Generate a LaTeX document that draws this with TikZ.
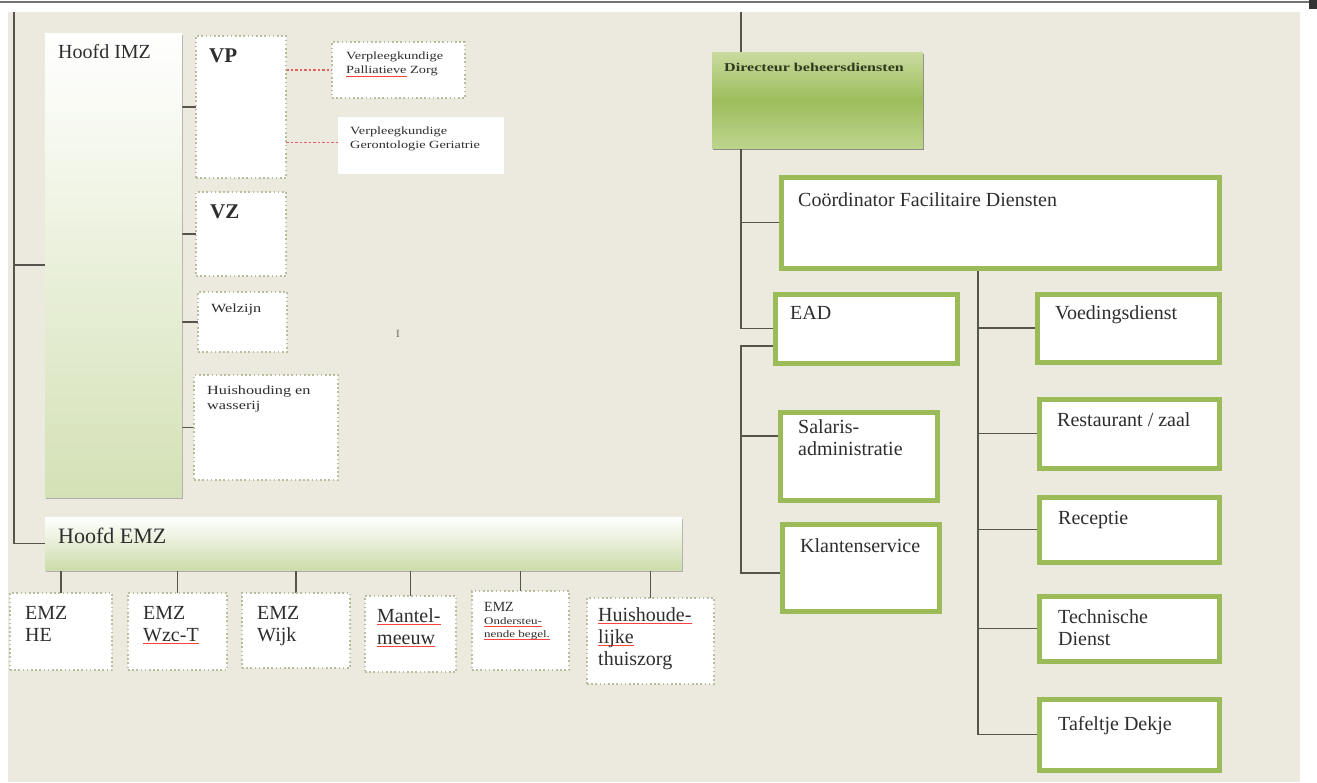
\documentclass[tikz,border=0pt]{standalone}
\usepackage{fontspec}
\setmainfont{Liberation Serif}
\usepackage{graphicx}
\usetikzlibrary{calc,shadows,backgrounds}
\definecolor{bgc}{HTML}{ECEADF}
\definecolor{linec}{HTML}{55554D}
\definecolor{dotc}{HTML}{B9BEA0}
\definecolor{gbord}{HTML}{9BBB59}
\definecolor{textc}{HTML}{2E2E2E}
\definecolor{dirtext}{HTML}{2F3A1F}
\definecolor{imzbot}{HTML}{D4E1B6}
\definecolor{emzbot}{HTML}{CCDCAA}
\definecolor{dirtop}{HTML}{C9DB9F}
\definecolor{dirmid}{HTML}{9DBD5C}
\definecolor{dirbot}{HTML}{BDD48C}
\definecolor{redc}{HTML}{E06060}
\newcommand\redsq[1]{\setbox0\hbox{#1}\rlap{\color{red!75}\rule[-2.4pt]{\wd0}{0.7pt}}\box0}
\newcommand\sm[1]{\scalebox{1.3}[1]{#1}}
\tikzset{
  box/.style={rectangle, anchor=north west, inner sep=0pt, outer sep=0pt},
  dotbox/.style={box, fill=white, draw=dotc, line width=1.3pt, dash pattern=on 1.6pt off 2.6pt},
  plainbox/.style={box, fill=white},
  gbox/.style={box, fill=white, draw=gbord, line width=5pt},
  imzbox/.style={box, top color=white, bottom color=imzbot, draw=none,
     drop shadow={shadow xshift=1.2pt, shadow yshift=-1.6pt, opacity=0.45, fill=black!60}},
  emzbox/.style={box, top color=white, bottom color=emzbot, draw=none,
     drop shadow={shadow xshift=1pt, shadow yshift=-1.6pt, opacity=0.45, fill=black!60}},
  dirbox/.style={box, top color=dirtop, bottom color=dirbot, middle color=dirmid, draw=none,
     drop shadow={shadow xshift=0.8pt, shadow yshift=-1.8pt, opacity=0.6, fill=black!70}},
  conn/.style={draw=linec, line width=1.6pt},
  redconn/.style={draw=redc, line width=1.3pt, dash pattern=on 2.5pt off 2pt},
  txt/.style={anchor=north west, inner sep=0pt, align=left, text=textc,
     font=\fontsize{20}{22}\selectfont},
  smtxt/.style={anchor=north west, inner sep=0pt, align=left, text=textc,
     font=\fontsize{11}{14}\selectfont},
  smtxtb/.style={anchor=north west, inner sep=0pt, align=left, text=textc,
     font=\fontsize{12.5}{15}\selectfont},
  boldtxt/.style={txt, font=\bfseries\fontsize{21}{24}\selectfont},
}
\begin{document}
\begin{tikzpicture}[x=1pt,y=-1pt]
\useasboundingbox (0,0) rectangle (1317,782);

% boxes (left)
\node[imzbox, minimum width=137pt, minimum height=464pt] (imz) at (45,33) {};
\node[dotbox, minimum width=90pt, minimum height=142pt] (vp) at (196,36) {};
\node[dotbox, minimum width=90pt, minimum height=84pt] (vz) at (196,192) {};
\node[dotbox, minimum width=89pt, minimum height=60pt] (welz) at (198,292) {};
\node[dotbox, minimum width=144pt, minimum height=105pt] (huis) at (194,375) {};
\node[dotbox, minimum width=133pt, minimum height=56pt] (pal) at (332,42) {};
\node[plainbox, minimum width=166pt, minimum height=57pt] (ger) at (338,117) {};
\node[emzbox, minimum width=637pt, minimum height=53pt] (emz) at (45,517) {};
\node[dotbox, minimum width=102pt, minimum height=77pt] (he) at (10,593) {};
\node[dotbox, minimum width=99pt, minimum height=77pt] (wzc) at (128,593) {};
\node[dotbox, minimum width=108pt, minimum height=75pt] (wijk) at (242,593) {};
\node[dotbox, minimum width=91pt, minimum height=76pt] (mantel) at (365,596) {};
\node[dotbox, minimum width=97pt, minimum height=79pt] (ond) at (472,591) {};
\node[dotbox, minimum width=127pt, minimum height=86pt] (hhl) at (587,598) {};

% boxes (right)
\node[dirbox, minimum width=211pt, minimum height=96pt] (dir) at (712,52) {};
\node[gbox, minimum width=438pt, minimum height=91pt] (coord) at (781,177) {};
\node[gbox, minimum width=182pt, minimum height=69pt] (ead) at (775,294) {};
\node[gbox, minimum width=157pt, minimum height=88pt] (sal) at (780,412) {};
\node[gbox, minimum width=157pt, minimum height=87pt] (klant) at (782,524) {};
\node[gbox, minimum width=182pt, minimum height=68pt] (voed) at (1037,294) {};
\node[gbox, minimum width=180pt, minimum height=69pt] (rest) at (1039,399) {};
\node[gbox, minimum width=180pt, minimum height=65pt] (recep) at (1039,497) {};
\node[gbox, minimum width=180pt, minimum height=65pt] (tech) at (1039,596) {};
\node[gbox, minimum width=180pt, minimum height=71pt] (taf) at (1039,699) {};

% background and connectors
\begin{scope}[on background layer]
\fill[white] (0,0) rectangle (1317,782);
\fill[bgc] (8,12) rectangle (1300,782);
\draw[black!55, line width=1.5pt] (0,2) -- (1309,2);
\fill[black!80] (1309,0) rectangle (1317,9);

\coordinate (ltop) at (14,12);
\draw[conn] (ltop) |- (emz.west);
\draw[conn] (ltop |- imz.west) -- (imz.west);
\foreach \n in {vp,vz,welz,huis} \draw[conn, line width=1.3pt] (imz.east |- \n.west) -- (\n.west);
\coordinate (vpk) at ($(vp.north east)!0.75!(vp.south east)$);
\draw[redconn] (vp.east |- pal.west) -- (pal.west);
\draw[redconn] (vpk) -- (vpk -| ger.west);
\foreach \n in {he,wzc,wijk,mantel,ond,hhl} \draw[conn, line width=1.3pt] (\n.north |- emz.south) -- (\n.north);

\coordinate (rtop) at (741,12);
\draw[conn] (rtop) -- (rtop |- dir.north);
\draw[conn] (rtop |- dir.south) |- (ead.west);
\draw[conn] (rtop |- coord.west) -- (coord.west);
\coordinate (eadk) at ($(ead.north west)!0.75!(ead.south west)$);
\coordinate (salk) at ($(sal.north west)!0.27!(sal.south west)$);
\coordinate (klk) at ($(klant.north west)!0.56!(klant.south west)$);
\draw[conn] (eadk) -- (eadk -| rtop) |- (klk);
\draw[conn] (salk -| rtop) -- (salk);
\coordinate (ck) at ($(coord.south west)!0.45!(coord.south east)$);
\draw[conn] (ck) |- (taf.west);
\foreach \n in {voed,rest,recep,tech} \draw[conn] (ck |- \n.west) -- (\n.west);
\end{scope}

% texts
\node[txt] (timz) at (58,44) {Hoofd IMZ};
\node[boldtxt] (tvp) at (209,49) {VP};
\node[smtxt] (tpal) at (346,52) {\sm{Verpleegkundige}\\\sm{\redsq{Palliatieve}\ Zorg}};
\node[smtxt] (tger) at (350,127) {\sm{Verpleegkundige}\\\sm{Gerontologie Geriatrie}};
\node[boldtxt] (tvz) at (210,205) {VZ};
\node[smtxtb] (twel) at (211,304) {\sm{Welzijn}};
\node[smtxtb] (thuis) at (207,386) {\sm{Huishouding en}\\\sm{wasserij}};
\node[anchor=north west, inner sep=0pt, text=black!60, font=\fontsize{11}{12}\selectfont] (tcur) at (396,330) {I};
\node[txt, font=\fontsize{22}{24}\selectfont] (temz) at (58,528) {Hoofd EMZ};
\node[txt] (the) at (25,606) {EMZ\\HE};
\node[txt] (twzc) at (143,606) {EMZ\\\redsq{Wzc-T}};
\node[txt] (twijk) at (257,606) {EMZ\\Wijk};
\node[txt] (tman) at (377,608) {\redsq{Mantel-}\\\redsq{meeuw}};
\node[txt, font=\fontsize{14}{16}\selectfont] (tond) at (484,602) {EMZ};
\node[smtxt, font=\fontsize{10}{13}\selectfont] (tond2) at (484,617) {\sm{\redsq{Ondersteu-}}\\\sm{\redsq{nende begel.}}};
\node[txt] (thhl) at (598,607) {\redsq{Huishoude-}\\\redsq{lijke}\\thuiszorg};
\node[anchor=north west, inner sep=0pt, text=dirtext, font=\bfseries\fontsize{12}{14}\selectfont] (tdir) at (724,63) {\scalebox{1.34}[1]{Directeur beheersdiensten}};
\node[txt] (tcoord) at (798,192) {Coördinator Facilitaire Diensten};
\node[txt] (tead) at (790,306) {EAD};
\node[txt] (tsal) at (798,419) {Salaris-\\administratie};
\node[txt] (tkl) at (800,538) {Klantenservice};
\node[txt] (tvoed) at (1055,305) {Voedingsdienst};
\node[txt] (trest) at (1057,412) {Restaurant / zaal};
\node[txt] (trec) at (1058,511) {Receptie};
\node[txt] (ttech) at (1058,609) {Technische\\Dienst};
\node[txt] (ttaf) at (1058,716) {Tafeltje Dekje};
\end{tikzpicture}
\end{document}
